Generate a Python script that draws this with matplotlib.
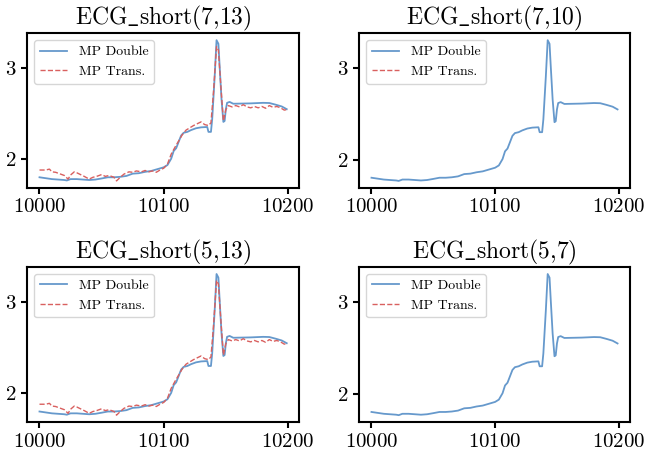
import numpy as np
import matplotlib.pyplot as plt

plt.rcParams['mathtext.fontset'] = 'cm'
plt.rcParams['font.family'] = 'cmr10'
plt.rcParams['axes.unicode_minus'] = False
plt.rcParams['axes.formatter.use_mathtext'] = True

# MP Double (same curve in all panels)
x_double = [10000, 10005, 10010, 10020, 10022, 10025, 10030, 10040, 10045, 10050,
            10055, 10060, 10065, 10070, 10075, 10080, 10085, 10090, 10095, 10100,
            10103, 10106, 10108, 10110, 10112, 10114, 10116, 10119, 10122, 10126,
            10130, 10135, 10136, 10138, 10139, 10141, 10142.5, 10144, 10145, 10146.5,
            10148, 10149, 10150, 10151, 10153, 10156, 10170, 10180, 10185, 10190,
            10195, 10199]
y_double = [1.80, 1.79, 1.78, 1.77, 1.765, 1.78, 1.78, 1.77, 1.775, 1.787,
            1.80, 1.80, 1.805, 1.815, 1.84, 1.845, 1.86, 1.87, 1.89, 1.91,
            1.935, 2.005, 2.09, 2.12, 2.19, 2.26, 2.29, 2.30, 2.32, 2.34,
            2.35, 2.354, 2.30, 2.30, 2.44, 2.91, 3.31, 3.27, 3.02, 2.66,
            2.41, 2.42, 2.55, 2.62, 2.63, 2.61, 2.614, 2.62, 2.618, 2.60,
            2.58, 2.55]

# MP Trans. (left panels)
x_trans = [10000, 10005, 10008, 10010, 10013, 10016, 10020, 10023, 10025, 10028,
           10030, 10033, 10036, 10040, 10043, 10046, 10050, 10053, 10056, 10060,
           10062, 10065, 10068, 10072, 10075, 10078, 10082, 10085, 10088, 10091,
           10094, 10097, 10100, 10103, 10106, 10109, 10112, 10115, 10118, 10121,
           10124, 10127, 10130, 10133, 10136, 10138, 10140, 10142.5, 10144, 10146,
           10148, 10150, 10152, 10155, 10158, 10161, 10164, 10167, 10170, 10173,
           10176, 10179, 10182, 10185, 10188, 10191, 10194, 10197, 10199]
y_trans = [1.88, 1.88, 1.89, 1.86, 1.855, 1.84, 1.82, 1.78, 1.825, 1.86,
           1.85, 1.83, 1.81, 1.78, 1.80, 1.81, 1.83, 1.81, 1.82, 1.80,
           1.76, 1.80, 1.835, 1.86, 1.855, 1.87, 1.86, 1.875, 1.86, 1.87,
           1.855, 1.88, 1.90, 1.945, 2.055, 2.13, 2.20, 2.27, 2.32, 2.345,
           2.37, 2.39, 2.41, 2.38, 2.37, 2.40, 2.73, 3.24, 3.20, 2.80,
           2.42, 2.545, 2.59, 2.575, 2.59, 2.575, 2.60, 2.575, 2.565, 2.58,
           2.565, 2.58, 2.56, 2.59, 2.57, 2.58, 2.565, 2.54, 2.545]

titles = [r'$\mathrm{ECG\_short(7{,}13)}$', r'$\mathrm{ECG\_short(7{,}10)}$',
          r'$\mathrm{ECG\_short(5{,}13)}$', r'$\mathrm{ECG\_short(5{,}7)}$']
show_trans = [True, False, True, False]

blue = '#6699cc'
red = '#d9605f'

fig, axes = plt.subplots(2, 2, figsize=(6.46, 4.54), dpi=100)
for ax, title, st in zip(axes.flat, titles, show_trans):
    ax.plot(x_double, y_double, color=blue, lw=1.3, label='MP Double')
    if st:
        ax.plot(x_trans, y_trans, color=red, lw=1.0, ls='--', label='MP Trans.')
    else:
        ax.plot([], [], color=red, lw=1.0, ls='--', label='MP Trans.')
    ax.set_title(title, fontsize=17, pad=3)
    ax.set_xticks([10000, 10100, 10200])
    ax.set_yticks([2, 3])
    ax.tick_params(labelsize=15, width=1.5, length=4)
    for s in ax.spines.values():
        s.set_linewidth(1.5)
    ax.legend(loc='upper left', fontsize=10, framealpha=0.8)

axes[0, 0].set_position([0.042, 0.586, 0.421, 0.341])
axes[0, 1].set_position([0.556, 0.586, 0.419, 0.341])
axes[1, 0].set_position([0.042, 0.070, 0.421, 0.342])
axes[1, 1].set_position([0.556, 0.070, 0.419, 0.342])

fig.savefig('out.png', dpi=100)
